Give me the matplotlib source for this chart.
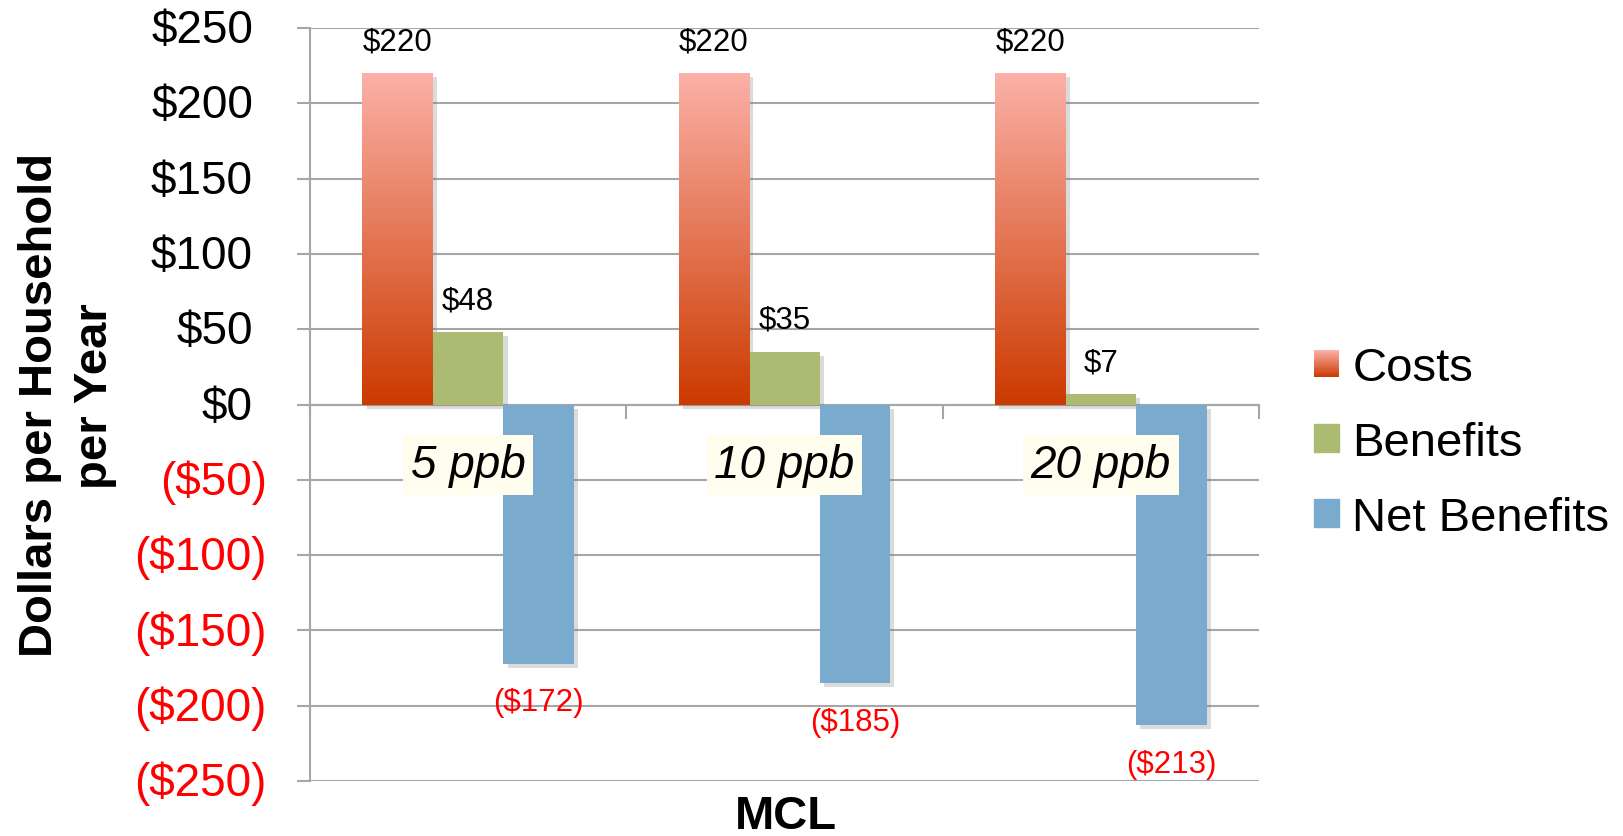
import numpy as np
import matplotlib
matplotlib.use('Agg')
import matplotlib.pyplot as plt
import matplotlib.patheffects as pe
from matplotlib.patches import Rectangle
from matplotlib.legend_handler import HandlerBase
from matplotlib.colors import LinearSegmentedColormap

plt.rcParams['font.family'] = ['Liberation Sans', 'DejaVu Sans']

# dati
levels = ['5 ppb', '10 ppb', '20 ppb']
costs = [220, 220, 220]
benefits = [48, 35, 7]
net_benefits = [-172, -185, -213]
series_names = ['Costs', 'Benefits', 'Net Benefits']
y_ticks = list(range(-250, 251, 50))

grid_col = '#A6A6A6'
green = '#ABBC72'
blue = '#7BAACF'
# gradiente delle barre Costs (dal basso verso l'alto)
grad = LinearSegmentedColormap.from_list('costs', ['#CC3A00', '#FBB1A8'])


def money(v):
    return f'${v}' if v >= 0 else f'(${-v})'


fig = plt.figure(figsize=(16.23, 8.37), dpi=100)
ax = fig.add_axes([310 / 1623, 55 / 837, 949 / 1623, 753 / 837])

x = np.arange(len(levels))
w = 0.223
shadow = [pe.SimplePatchShadow(offset=(3, -3), shadow_rgbFace='0.45', alpha=0.25), pe.Normal()]

cost_bars = ax.bar(x - w, costs, w, color='none', zorder=3, path_effects=shadow)
for b in cost_bars:
    x0, y0, h = b.get_x(), b.get_y(), b.get_height()
    im = ax.imshow(np.linspace(0, 1, 256).reshape(-1, 1), cmap=grad, origin='lower',
                   extent=[x0, x0 + w, y0, y0 + h], aspect='auto', zorder=4)
    im.set_clip_path(b)
ax.bar(x, benefits, w, color=green, zorder=3, path_effects=shadow)
ax.bar(x + w, net_benefits, w, color=blue, zorder=3, path_effects=shadow)

# etichette dei valori
for i in range(len(levels)):
    ax.annotate(money(costs[i]), (x[i] - w, costs[i]), xytext=(0, 23), textcoords='offset points',
                ha='center', va='center', fontsize=22.5, zorder=6)
    ax.annotate(money(benefits[i]), (x[i], benefits[i]), xytext=(0, 23), textcoords='offset points',
                ha='center', va='center', fontsize=22.5, zorder=6)
    ax.annotate(money(net_benefits[i]), (x[i] + w, net_benefits[i]), xytext=(0, -28),
                textcoords='offset points', ha='center', va='center', fontsize=22.5,
                color='#FF0000', zorder=6)
    ax.text(x[i], -40, levels[i], fontsize=33, style='italic', ha='center', va='center', zorder=7,
            bbox=dict(boxstyle='square,pad=0.17', fc='#FFFDEE', ec='none'))

ax.set_xlim(-0.5, 2.5)
ax.set_ylim(-250, 250)
ax.set_yticks(y_ticks)
ax.set_yticklabels([])
# etichette asse y: i positivi lasciano lo spazio della parentesi (formato contabile)
for v in y_ticks:
    dx = -41 if v >= 0 else -31
    ax.annotate(money(v), (0, v), xycoords=('axes fraction', 'data'), xytext=(dx, -1.5),
                textcoords='offset points', ha='right', va='center', fontsize=33,
                color='black' if v >= 0 else '#FF0000', annotation_clip=False)
ax.set_xticks([-0.5, 0.5, 1.5, 2.5])
ax.set_xticklabels([])

ax.set_axisbelow(True)
ax.yaxis.grid(True, color=grid_col, lw=1.5)
ax.tick_params(axis='y', length=9.5, width=1.5, color=grid_col)
ax.tick_params(axis='x', length=10, width=1.5, color=grid_col, direction='out')
for s in ['top', 'right']:
    ax.spines[s].set_visible(False)
ax.spines['left'].set_color(grid_col)
ax.spines['left'].set_linewidth(1.5)
ax.spines['bottom'].set_position(('data', 0))
ax.spines['bottom'].set_color(grid_col)
ax.spines['bottom'].set_linewidth(1.5)
ax.spines['bottom'].set_zorder(2)

fig.text(52 / 1623, 1 - 405 / 837, 'Dollars per Household', rotation=90, rotation_mode='anchor',
         fontsize=34, fontweight='bold', ha='center', va='baseline')
fig.text(107 / 1623, 1 - 396 / 837, 'per Year', rotation=90, rotation_mode='anchor',
         fontsize=34, fontweight='bold', ha='center', va='baseline')
fig.text(786 / 1623, 1 - 817 / 837, 'MCL', fontsize=34, fontweight='bold', ha='center', va='center')


class GradientHandler(HandlerBase):
    def create_artists(self, legend, orig_handle, xdescent, ydescent, width, height, fontsize, trans):
        n = 24
        arts = []
        for k in range(n):
            arts.append(Rectangle((-xdescent, -ydescent + height * k / n), width, height / n * 1.05,
                                  facecolor=grad(k / (n - 1)), edgecolor='none', transform=trans))
        return arts


cost_proxy = Rectangle((0, 0), 1, 1, color='#E57358')
handles = [cost_proxy, Rectangle((0, 0), 1, 1, color=green), Rectangle((0, 0), 1, 1, color=blue)]
fig.legend(handles, series_names, loc='center left', bbox_to_anchor=(1314 / 1623, 1 - 444 / 837),
           frameon=False, fontsize=34, handlelength=0.53, handleheight=0.53, handletextpad=0.28,
           labelspacing=0.65, borderpad=0, borderaxespad=0,
           handler_map={cost_proxy: GradientHandler()})

fig.savefig('out.png', dpi=100)
